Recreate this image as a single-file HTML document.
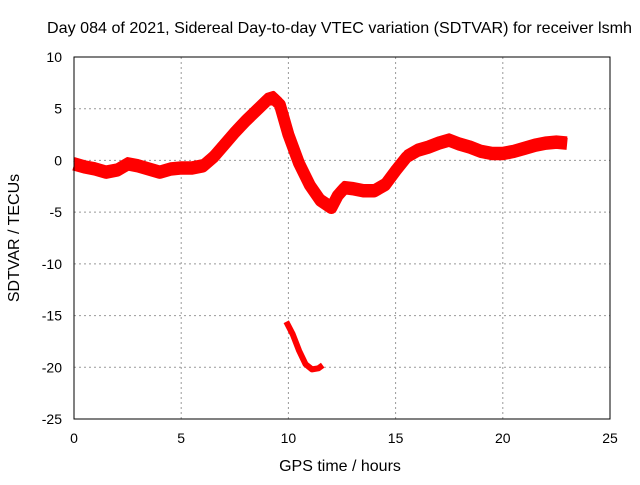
<!DOCTYPE html>
<html><head><meta charset="utf-8"><style>
body{margin:0;background:#fff;font-family:"Liberation Sans",sans-serif;}
svg text{font-family:"Liberation Sans",sans-serif;font-size:14px;fill:#000}
svg text.big{font-size:16px}
</style></head><body>
<svg id="c" width="640" height="480">
<text class="big" x="47" y="33" textLength="585" lengthAdjust="spacingAndGlyphs">Day 084 of 2021, Sidereal Day-to-day VTEC variation (SDTVAR) for receiver lsmh</text>
<text class="big" x="340" y="471" text-anchor="middle">GPS time / hours</text>
<text class="big" transform="translate(19,238) rotate(-90)" text-anchor="middle">SDTVAR / TECUs</text>
<g id="grid"></g><g id="series"></g>
<rect x="74" y="57" width="536" height="362" fill="none" stroke="#000"/>
</svg>
<script>
const xTicks=[0,5,10,15,20,25];
const yTicks=[10,5,0,-5,-10,-15,-20,-25];
const mainHours=[0,0.5,1,1.5,2,2.5,3,3.5,4,4.5,5,5.5,6,6.5,7,7.5,8,8.5,9,9.3,9.6,10,10.5,11,11.5,12,12.3,12.6,13,13.5,14,14.5,15,15.5,16,16.5,17,17.5,18,18.5,19,19.5,20,20.5,21,21.5,22,22.5,23];
const mainValues=[-0.4,-0.7,-0.9,-1.2,-1.0,-0.4,-0.6,-0.9,-1.2,-0.9,-0.8,-0.8,-0.6,0.3,1.5,2.7,3.8,4.8,5.8,6.0,5.4,2.5,-0.3,-2.4,-3.9,-4.6,-3.4,-2.7,-2.8,-3.0,-3.0,-2.4,-1.0,0.3,0.9,1.2,1.6,1.9,1.5,1.2,0.8,0.6,0.6,0.8,1.1,1.4,1.6,1.7,1.6];
const secHours=[9.9,10.2,10.5,10.8,11.1,11.4,11.6];
const secValues=[-15.6,-16.8,-18.4,-19.7,-20.2,-20.1,-19.8];
const X=h=>74+h*536/25, Y=v=>57+(10-v)*362/35;
const ns="http://www.w3.org/2000/svg", g=document.getElementById('grid'), s=document.getElementById('series');
function mk(p,t,a){const e=document.createElementNS(ns,t);for(const k in a)e.setAttribute(k,a[k]);p.appendChild(e);return e;}
xTicks.forEach(t=>{
 if(t>0&&t<25){const l=mk(g,'line',{x1:X(t),x2:X(t),y1:57,y2:419,stroke:'#999','stroke-dasharray':'2,3'});
 
 }
 const tx=mk(g,'text',{x:X(t),y:443,'text-anchor':'middle'});tx.textContent=t;
 
 
});
yTicks.forEach(t=>{
 if(t<10&&t>-25){const l=mk(g,'line',{x1:74,x2:610,y1:Y(t),y2:Y(t),stroke:'#999','stroke-dasharray':'2,3'});
 
 }
 const tx=mk(g,'text',{x:62,y:Y(t)+5,'text-anchor':'end'});tx.textContent=t;
 
 
});
function pts(h,v,o){return h.map((x,i)=>X(x)+','+(Y(v[i])+o)).join(' ');}
const m=mk(s,'polyline',{points:pts(mainHours,mainValues,0),fill:'none',stroke:'#f00','stroke-width':12,'stroke-linejoin':'round'});


const m2=mk(s,'polyline',{points:pts(mainHours,mainValues,-5),fill:'none',stroke:'#f00','stroke-width':5,'stroke-linejoin':'round'});


const sc=mk(s,'polyline',{points:pts(secHours,secValues,0),fill:'none',stroke:'#f00','stroke-width':6,'stroke-linejoin':'round'});


</script>
</body></html>
